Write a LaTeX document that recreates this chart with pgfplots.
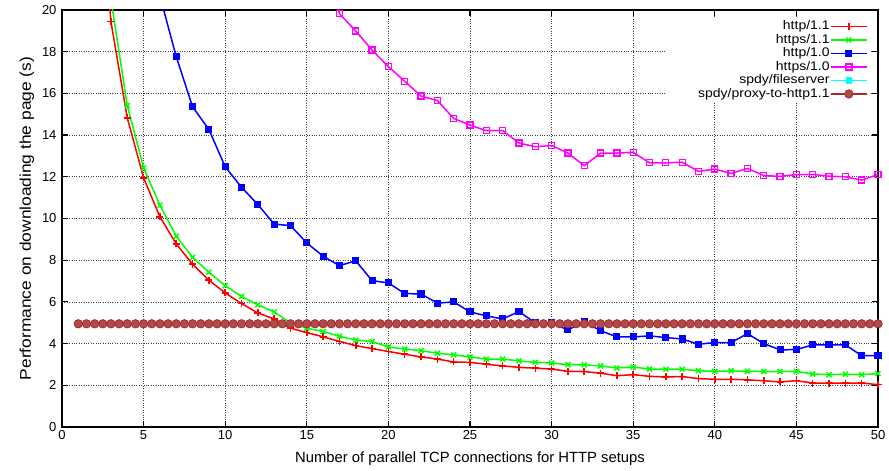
\documentclass[border=0pt]{standalone}
\usepackage{fontspec}
\setmainfont{Liberation Sans}
\usepackage{pgfplots}
\pgfplotsset{compat=1.18}
\definecolor{gred}{RGB}{255,0,0}
\definecolor{ggreen}{RGB}{0,255,0}
\definecolor{gblue}{RGB}{0,0,255}
\definecolor{gmag}{RGB}{255,0,255}
\definecolor{gcyan}{RGB}{0,255,255}
\definecolor{gbrown}{RGB}{165,42,42}
\newcommand{\lgd}[1]{\scalebox{1.12}[1]{#1}}
\begin{document}
\begin{tikzpicture}
\useasboundingbox (-62pt,-44pt) rectangle (827pt,427pt);
\begin{axis}[
  scale only axis, width=816pt, height=417pt,
  xmin=0, xmax=50, ymin=0, ymax=20,
  xtick={0,5,...,50}, ytick={0,2,...,20},
  tick align=inside, xtick pos=both, ytick pos=both,
  major tick length=6pt,
  tick style={black, line width=1.2pt},
  axis line style={black, line width=2.2pt},
  grid=major, major grid style={black!75, dotted, line width=0.7pt},
  /pgf/number format/assume math mode=true,
  ticklabel style={font=\fontsize{13}{14}\selectfont},
  yticklabel style={xshift=-2pt},
  xlabel={Number of parallel TCP connections for HTTP setups},
  ylabel={\scalebox{1.12}[1]{Performance on downloading the page (s)}},
  xlabel style={font=\fontsize{14.8}{16}\selectfont, at={(axis description cs:0.5,-0.077)}, anchor=center},
  ylabel style={font=\fontsize{15.5}{16}\selectfont, at={(axis description cs:-0.043,0.5)}, anchor=center},
  legend plot pos=right,
  legend cell align=right,
  legend style={at={(axis description cs:0.99,0.982)}, anchor=north east, draw=none, fill=white,
    font=\fontsize{12.5}{13}\selectfont, row sep=0pt, inner sep=2pt,
    nodes={inner sep=0.5pt, text height=9.5pt, text depth=3pt, text width=160pt, align=right}},
  legend image code/.code={\draw[mark repeat=2,mark phase=2,#1] plot coordinates {(0pt,0pt) (18pt,0pt) (36pt,0pt)};},
]
\addplot[color=gred, line width=1.5pt, mark=+, mark size=3.5pt] coordinates {
(1,56) (2,28.5) (3,19.44) (4,14.83) (5,11.95) (6,10.08) (7,8.78) (8,7.81) (9,7.04) (10,6.43)
(11,5.92) (12,5.47) (13,5.18) (14,4.74) (15,4.53) (16,4.32) (17,4.11) (18,3.90) (19,3.76) (20,3.62)
(21,3.49) (22,3.36) (23,3.26) (24,3.12) (25,3.10) (26,3.01) (27,2.93) (28,2.86) (29,2.82) (30,2.78)
(31,2.67) (32,2.66) (33,2.58) (34,2.46) (35,2.51) (36,2.43) (37,2.40) (38,2.42) (39,2.32) (40,2.29)
(41,2.29) (42,2.26) (43,2.22) (44,2.16) (45,2.22) (46,2.11) (47,2.10) (48,2.10) (49,2.11) (50,2.03)};
\addlegendentry{\lgd{http/1.1}}
\addplot[color=ggreen, line width=1.5pt, mark=x, mark size=3.5pt] coordinates {
(1,60) (2,30.5) (3,20.5) (4,15.42) (5,12.43) (6,10.64) (7,9.15) (8,8.14) (9,7.42) (10,6.78)
(11,6.26) (12,5.86) (13,5.52) (14,4.99) (15,4.74) (16,4.58) (17,4.35) (18,4.17) (19,4.10) (20,3.84)
(21,3.74) (22,3.66) (23,3.54) (24,3.46) (25,3.36) (26,3.26) (27,3.26) (28,3.17) (29,3.10) (30,3.07)
(31,2.99) (32,2.98) (33,2.93) (34,2.83) (35,2.88) (36,2.78) (37,2.77) (38,2.77) (39,2.70) (40,2.67)
(41,2.69) (42,2.67) (43,2.66) (44,2.66) (45,2.67) (46,2.54) (47,2.51) (48,2.53) (49,2.51) (50,2.56)};
\addlegendentry{\lgd{https/1.1}}
\addplot[color=gblue, line width=1.5pt, mark=square*, mark size=2.8pt] coordinates {
(1,110) (2,62) (3,42) (4,31.5) (5,25) (6,20.67) (7,17.76) (8,15.36) (9,14.27) (10,12.48)
(11,11.50) (12,10.67) (13,9.73) (14,9.66) (15,8.83) (16,8.19) (17,7.74) (18,7.97) (19,7.02) (20,6.91)
(21,6.40) (22,6.38) (23,5.94) (24,6.00) (25,5.52) (26,5.33) (27,5.18) (28,5.54) (29,4.99) (30,4.99)
(31,4.66) (32,5.04) (33,4.62) (34,4.32) (35,4.32) (36,4.37) (37,4.29) (38,4.22) (39,3.97) (40,4.05)
(41,4.05) (42,4.48) (43,4.00) (44,3.70) (45,3.71) (46,3.94) (47,3.94) (48,3.94) (49,3.42) (50,3.42)};
\addlegendentry{\lgd{http/1.0}}
\addplot[color=gmag, line width=1.5pt, mark=square, mark size=3pt, mark options={line width=1.3pt}] coordinates {
(15,26) (16,23) (17,19.82) (18,18.99) (19,18.08) (20,17.28)
(21,16.58) (22,15.87) (23,15.66) (24,14.80) (25,14.48) (26,14.21) (27,14.22) (28,13.62) (29,13.44) (30,13.50)
(31,13.14) (32,12.53) (33,13.14) (34,13.14) (35,13.17) (36,12.67) (37,12.67) (38,12.70) (39,12.26) (40,12.37)
(41,12.16) (42,12.40) (43,12.06) (44,12.02) (45,12.11) (46,12.11) (47,12.03) (48,12.00) (49,11.84) (50,12.11)};
\addlegendentry{\lgd{https/1.0}}
\addplot[color=gcyan, line width=1.5pt, mark=square*, mark size=2.5pt] coordinates {
(1,4.95) (1.5,4.95) (2,4.95) (2.5,4.95) (3,4.95) (3.5,4.95) (4,4.95) (4.5,4.95) (5,4.95) (5.5,4.95)
(6,4.95) (6.5,4.95) (7,4.95) (7.5,4.95) (8,4.95) (8.5,4.95) (9,4.95) (9.5,4.95) (10,4.95) (10.5,4.95)
(11,4.95) (11.5,4.95) (12,4.95) (12.5,4.95) (13,4.95) (13.5,4.95) (14,4.95) (14.5,4.95) (15,4.95) (15.5,4.95)
(16,4.95) (16.5,4.95) (17,4.95) (17.5,4.95) (18,4.95) (18.5,4.95) (19,4.95) (19.5,4.95) (20,4.95) (20.5,4.95)
(21,4.95) (21.5,4.95) (22,4.95) (22.5,4.95) (23,4.95) (23.5,4.95) (24,4.95) (24.5,4.95) (25,4.95) (25.5,4.95)
(26,4.95) (26.5,4.95) (27,4.95) (27.5,4.95) (28,4.95) (28.5,4.95) (29,4.95) (29.5,4.95) (30,4.95) (30.5,4.95)
(31,4.95) (31.5,4.95) (32,4.95) (32.5,4.95) (33,4.95) (33.5,4.95) (34,4.95) (34.5,4.95) (35,4.95) (35.5,4.95)
(36,4.95) (36.5,4.95) (37,4.95) (37.5,4.95) (38,4.95) (38.5,4.95) (39,4.95) (39.5,4.95) (40,4.95) (40.5,4.95)
(41,4.95) (41.5,4.95) (42,4.95) (42.5,4.95) (43,4.95) (43.5,4.95) (44,4.95) (44.5,4.95) (45,4.95) (45.5,4.95)
(46,4.95) (46.5,4.95) (47,4.95) (47.5,4.95) (48,4.95) (48.5,4.95) (49,4.95) (49.5,4.95) (50,4.95)};
\addlegendentry{\lgd{spdy/fileserver}}
\addplot[color=gbrown, line width=1.5pt, mark=*, mark size=4.2pt, mark options={fill=gbrown!85!white, line width=0.8pt}] coordinates {
(1,4.95) (1.5,4.95) (2,4.95) (2.5,4.95) (3,4.95) (3.5,4.95) (4,4.95) (4.5,4.95) (5,4.95) (5.5,4.95)
(6,4.95) (6.5,4.95) (7,4.95) (7.5,4.95) (8,4.95) (8.5,4.95) (9,4.95) (9.5,4.95) (10,4.95) (10.5,4.95)
(11,4.95) (11.5,4.95) (12,4.95) (12.5,4.95) (13,4.95) (13.5,4.95) (14,4.95) (14.5,4.95) (15,4.95) (15.5,4.95)
(16,4.95) (16.5,4.95) (17,4.95) (17.5,4.95) (18,4.95) (18.5,4.95) (19,4.95) (19.5,4.95) (20,4.95) (20.5,4.95)
(21,4.95) (21.5,4.95) (22,4.95) (22.5,4.95) (23,4.95) (23.5,4.95) (24,4.95) (24.5,4.95) (25,4.95) (25.5,4.95)
(26,4.95) (26.5,4.95) (27,4.95) (27.5,4.95) (28,4.95) (28.5,4.95) (29,4.95) (29.5,4.95) (30,4.95) (30.5,4.95)
(31,4.95) (31.5,4.95) (32,4.95) (32.5,4.95) (33,4.95) (33.5,4.95) (34,4.95) (34.5,4.95) (35,4.95) (35.5,4.95)
(36,4.95) (36.5,4.95) (37,4.95) (37.5,4.95) (38,4.95) (38.5,4.95) (39,4.95) (39.5,4.95) (40,4.95) (40.5,4.95)
(41,4.95) (41.5,4.95) (42,4.95) (42.5,4.95) (43,4.95) (43.5,4.95) (44,4.95) (44.5,4.95) (45,4.95) (45.5,4.95)
(46,4.95) (46.5,4.95) (47,4.95) (47.5,4.95) (48,4.95) (48.5,4.95) (49,4.95) (49.5,4.95) (50,4.95)};
\addlegendentry{\lgd{spdy/proxy-to-http1.1}}
\end{axis}
\end{tikzpicture}
\end{document}
